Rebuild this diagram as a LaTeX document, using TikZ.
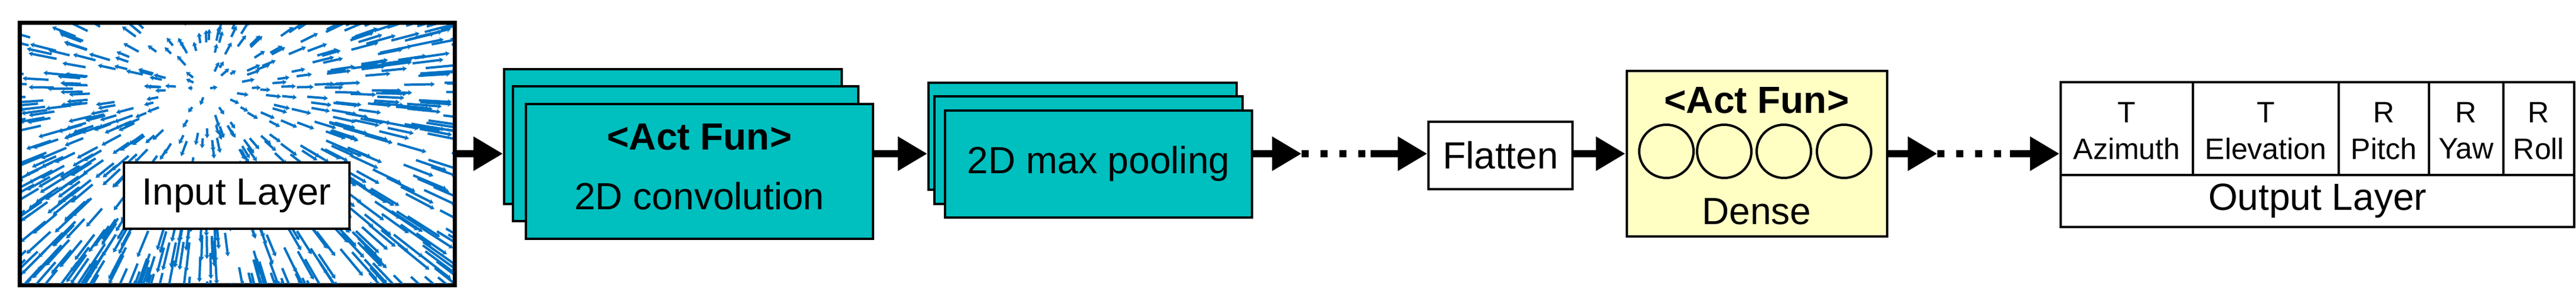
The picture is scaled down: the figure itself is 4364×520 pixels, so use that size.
\documentclass[tikz,border=0pt]{standalone}
\usepackage{fontspec}
\setmainfont{Liberation Sans}
\usetikzlibrary{arrows.meta,shapes.geometric}
\definecolor{teal2}{RGB}{0,191,191}
\definecolor{dyel}{RGB}{255,255,196}
\definecolor{flow}{RGB}{0,114,196}
\begin{document}
\begin{tikzpicture}[x=1pt,y=-1pt,
  box/.style={draw=black,line width=4pt,inner sep=0pt},
  tbox/.style={box,fill=teal2},
  big/.style={font=\fontsize{64}{70}\selectfont},
  bigb/.style={font=\fontsize{64}{70}\selectfont\bfseries},
  small/.style={font=\fontsize{50}{56}\selectfont},
  arr/.style={line width=12pt,-{Triangle[length=50pt,width=55pt]}},
  dots/.style={line width=12pt,dash pattern=on 12pt off 20pt}]
\useasboundingbox (0,0) rectangle (4364,520);
% input layer
\node[box,fill=white,minimum width=734,minimum height=441] (in) at (402,260) {};
\begin{scope}
\clip (37,42) rectangle (767,479);
\pgfmathsetseed{7}
\foreach \i in {1,...,650}{
  \pgfmathsetmacro\px{37+730*rnd}
  \pgfmathsetmacro\py{42+437*rnd}
  \pgfmathsetmacro\dx{\px-350}
  \pgfmathsetmacro\dy{\py-150}
  \pgfmathsetmacro\dd{veclen(\dx,\dy)+1}
  \pgfmathsetmacro\ux{\dx/\dd}
  \pgfmathsetmacro\uy{\dy/\dd}
  \pgfmathsetmacro\LL{0.13*\dd+4+12*rnd}
  \draw[flow,line width=4pt,-{Stealth[length=7pt,width=9pt]}] (\px,\py) -- ++(\LL*\ux,\LL*\uy);
}
\end{scope}
\draw[line width=6pt] (in.north west) rectangle (in.south east);
\node[box,fill=white,minimum width=382,minimum height=112,big] (inl) at (401,331) {Input Layer};
% conv
\node[tbox,minimum width=572,minimum height=228] (cb) at (1140,231) {};
\node[tbox,minimum width=585,minimum height=228] (cm) at (1161,260) {};
\node[tbox,minimum width=588,minimum height=228] (cf) at (1185,290) {};
\node[bigb] (caf) at (1185,232) {<Act Fun>};
\node[big] (cl) at (1185,332) {2D convolution};
% pool
\node[tbox,minimum width=522,minimum height=181] (pb) at (1834,230) {};
\node[tbox,minimum width=522,minimum height=182] (pm) at (1844,254) {};
\node[tbox,minimum width=520,minimum height=181,big] (pf) at (1861,277) {2D max pooling};
% flatten
\node[box,fill=white,minimum width=244,minimum height=114,big] (fl) at (2542,263) {Flatten};
% dense
\node[box,fill=dyel,minimum width=441,minimum height=280] (de) at (2976,260) {};
\node[bigb] (daf) at (2976,170) {<Act Fun>};
\foreach \n/\cx in {1/2823,2/2921,3/3022,4/3124}
  \node[ellipse,draw=black,line width=4pt,minimum width=92,minimum height=90,inner sep=0pt] (c\n) at (\cx,256) {};
\node[big] (dl) at (2976,358) {Dense};
% output
\node[box,fill=white,minimum width=870,minimum height=88,big] (ol) at (3926,340) {Output Layer};
\foreach \n/\a/\b/\t/\s in {a/3491/3715/T/Azimuth,e/3715/3962/T/Elevation,p/3962/4115/R/Pitch,y/4115/4241/R/Yaw,r/4241/4361/R/Roll}{
  \node[box,fill=white,minimum width=\b-\a,minimum height=157] (o\n) at ({(\a+\b)/2},217.5) {};
  \node[small] (t\n) at ({(\a+\b)/2},190) {\t};
  \node[small] (n\n) at ({(\a+\b)/2},252) {\s};
}
% connectors
\coordinate (p1) at (2205,260);
\coordinate (p2) at (2322,260);
\coordinate (q1) at (3282,260);
\coordinate (q2) at (3405,260);
\draw[arr] (in.east |- cm.center) -- (cb.west |- cm.center);
\draw[arr] (cf.east |- cm.center) -- (pb.west |- cm.center);
\draw[arr] (pf.east |- cm.center) -- (p1);
\draw[dots] (p1) -- (p2);
\draw[arr] (p2) -- (fl.west |- p2);
\draw[arr] (fl.east |- de.center) -- (de.west);
\draw[arr] (de.east) -- (q1);
\draw[dots] (q1) -- (q2);
\draw[arr] (q2) -- (oa.west |- q2);
\end{tikzpicture}
\end{document}
